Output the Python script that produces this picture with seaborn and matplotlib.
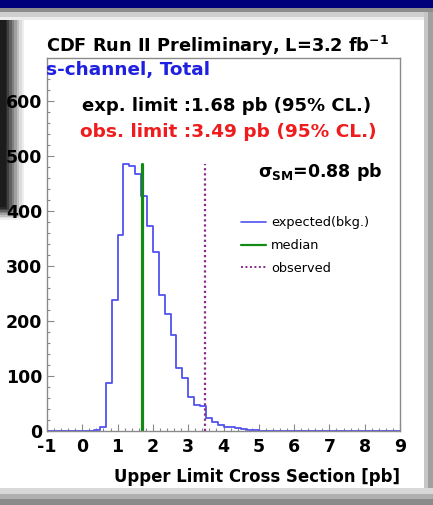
import numpy as np
import pandas as pd
import matplotlib
matplotlib.use("Agg")
import matplotlib.pyplot as plt
import seaborn as sns
from matplotlib.patches import Rectangle
from matplotlib.lines import Line2D

# ---- data ----
bin_lo = -1.0
bin_hi = 9.0
n_bins = 60
# counts per bin, bins of width 1/6 starting at -1
counts = [0]*8 + [  # -1 .. 0.333
    2, 8, 87, 238, 356, 485, 482, 468, 427, 373, 326, 247, 213, 175,
    114, 96, 61, 47, 46, 23, 17, 10, 8, 8, 5, 4, 2, 1,
]
counts = counts + [0]*(n_bins - len(counts))
median_limit = 1.68
observed_limit = 3.49
sigma_sm = 0.88
x_ticks = list(range(-1, 10))
y_ticks = [0, 100, 200, 300, 400, 500, 600]

edges = np.linspace(bin_lo, bin_hi, n_bins + 1)
centers = 0.5 * (edges[:-1] + edges[1:])
df = pd.DataFrame({"limit": centers, "count": counts})

sns.set_theme(style="white")
plt.rcParams["font.family"] = ["DejaVu Sans"]
plt.rcParams["mathtext.fontset"] = "custom"
plt.rcParams["mathtext.rm"] = "DejaVu Sans:bold"
plt.rcParams["mathtext.it"] = "DejaVu Sans:bold"
plt.rcParams["mathtext.bf"] = "DejaVu Sans:bold"

W, H = 433, 505
fig = plt.figure(figsize=(W / 100, H / 100), dpi=100)
fig.patch.set_facecolor("white")

def fx(px):
    return px / W

def fy(py):
    return 1 - py / H

ax = fig.add_axes([fx(47), fy(431), fx(400) - fx(47), fy(58) - fy(431)])
ax.set_zorder(2)
ax.patch.set_alpha(0)
sns.histplot(data=df, x="limit", weights="count", bins=n_bins,
             binrange=(bin_lo, bin_hi), element="step",
             fill=False, color="#5252f0", linewidth=1.3, ax=ax)
peak = max(counts)
ax.plot([median_limit, median_limit], [0, peak], color="#138a13", linewidth=2.3)
ax.plot([observed_limit, observed_limit], [0, peak], color="#8a2a8a",
        linewidth=1.6, linestyle=(0, (1, 1.3)))

ax.set_xlim(bin_lo, bin_hi)
ax.set_ylim(0, 678)
ax.set_xticks(x_ticks)
ax.set_yticks(y_ticks)
ax.set_xticklabels([str(t) for t in x_ticks], fontsize=12.5, fontweight="bold")
ax.set_yticklabels([str(t) for t in y_ticks], fontsize=12.5, fontweight="bold")
ax.xaxis.set_minor_locator(matplotlib.ticker.MultipleLocator(0.2))
ax.yaxis.set_minor_locator(matplotlib.ticker.MultipleLocator(20))
ax.tick_params(axis="x", which="major", direction="in", length=5,
               width=0.8, color="#888888", labelcolor="black", pad=5, bottom=True)
ax.tick_params(axis="y", which="major", direction="in", length=5,
               width=0.8, color="#888888", labelcolor="black", pad=3.5, left=True)
ax.tick_params(axis="both", which="minor", direction="in", length=2.5,
               width=0.8, color="#888888", bottom=True, left=True)
ax.set_xlabel("")
ax.set_ylabel("")
for s in ax.spines.values():
    s.set_color("#8a8a8a")
    s.set_linewidth(1.0)

# texts
fig.text(fx(46), fy(52), "CDF Run II Preliminary, L=3.2 fb$^{-1}$",
         fontsize=12.8, fontweight="bold", color="black", va="baseline")
fig.text(fx(46), fy(75), "s-channel, Total", fontsize=13.3,
         fontweight="bold", color="#2020e0", va="baseline")
fig.text(fx(82), fy(111), "exp. limit :%.2f pb (95%% CL.)" % median_limit,
         fontsize=13, fontweight="bold", color="black", va="baseline")
fig.text(fx(80), fy(137), "obs. limit :%.2f pb (95%% CL.)" % observed_limit,
         fontsize=13.3, fontweight="bold", color="#ee1c1c", va="baseline")
fig.text(fx(382), fy(177), "$\\sigma_{SM}$=%.2f pb" % sigma_sm,
         fontsize=12.5, fontweight="bold", color="black", va="baseline",
         ha="right")
fig.text(fx(400), fy(482), "Upper Limit Cross Section [pb]", fontsize=11.9,
         fontweight="bold", color="black", va="baseline", ha="right")

handles = [
    Line2D([], [], color="#5252f0", linewidth=1.2),
    Line2D([], [], color="#138a13", linewidth=1.6),
    Line2D([], [], color="#8a2a8a", linewidth=1.4, linestyle=(0, (1, 1.3))),
]
leg = ax.legend(handles, ["expected(bkg.)", "median", "observed"],
                loc="upper left", bbox_to_anchor=(fx(235), fy(210)),
                bbox_transform=fig.transFigure, frameon=False, fontsize=9.3,
                handlelength=1.9, handletextpad=0.4, labelspacing=0.75,
                borderpad=0)
for t in leg.get_texts():
    t.set_color("black")

# window decoration
def rect(x0, y0, x1, y1, color, z=10, alpha=1.0):
    fig.add_artist(Rectangle((fx(x0), fy(y1)), fx(x1) - fx(x0), fy(y0) - fy(y1),
                             transform=fig.transFigure, facecolor=color,
                             edgecolor="none", zorder=z, alpha=alpha))

rect(0, 0, W, 8, "#00007a")
rect(0, 8, W, 12, "#8c8c8c")
rect(0, 12, W, 17, "#cfcfcf")
rect(0, 17, W, 20, "#ececec")
rect(424, 12, W, H, "#c6c6c6")
rect(428, 12, W, H, "#a0a0a0")
rect(0, 488, W, 494, "#d8d8d8")
rect(0, 494, W, 499, "#b0b0b0")
rect(0, 499, W, H, "#8a8a8a")
# left dark window with shadow (behind the axes and its labels)
grays = ["#2a2a2a", "#404040", "#606060", "#808080", "#a0a0a0", "#c0c0c0", "#dcdcdc", "#eeeeee"]
for i, g in enumerate(grays[::-1]):
    w = 24 - i * 2.5
    rect(0, 20, w, 207 + (len(grays) - i) * 1.6, g, z=0.5)
rect(0, 20, 6, 207, "#1c1c1c", z=0.6)

fig.savefig("out.png", dpi=100, facecolor="white")
